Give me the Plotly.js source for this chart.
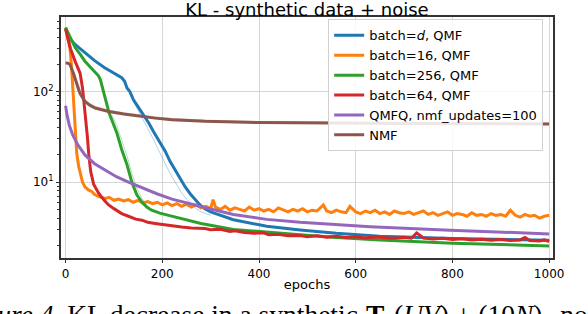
<!DOCTYPE html>
<html>
<head>
<meta charset="utf-8">
<script src="https://cdn.plot.ly/plotly-3.0.1.min.js"></script>
<style>html,body{margin:0;padding:0;background:#fff;overflow:hidden}#chart{width:588px;height:314px}</style>
</head>
<body>
<div id="chart"></div>
<script>
// ---- data ----
const blueX = [0,5,10,20,40,60,80,100,116,122,127,133,140,150,161,172,182,195,206,216,226,236,247,258,268,278,288,300,347,416,485,560,650,800,1000];
const blueY = [510,420,380,330,270,220,185,160,143,130,110,100,82,68,56,45,36,28,22,17,13.7,11,8.9,7.4,6.4,5.6,5.1,4.7,3.85,3.25,2.96,2.72,2.52,2.38,2.28];
const blueFaintX = [140,150,160,170,180,190,200,210,220,230,240,250,260,270,280,300];
const blueFaintY = [78,62,50,40,31,24,18.5,14.5,11.5,9.2,7.6,6.5,5.7,5.1,4.7,4.3];

const orangeX = [0,3,6,9,12,14,16,18,20,23,27,30,35,40,47,54,60,70,82,90,100,110,120,130,140,150,160,170,180,190,200,210,220,230,240,250,260,270,280,290,300,305,310,320,330,340,350,360,370,380,390,400,410,420,430,440,450,460,470,480,490,500,510,520,533,540,550,560,570,580,588,600,610,620,630,640,650,660,670,680,690,700,710,720,730,740,750,760,770,780,790,800,810,820,830,840,850,860,870,880,890,900,910,920,930,940,950,960,970,980,990,1000];
const orangeY = [500,420,360,305,200,130,72,45,30,21,15,12.6,10,8.9,8.2,7.9,7.3,6.9,6.6,6.8,6.3,6.5,6.2,6.4,6.0,6.3,5.9,6.1,5.8,6.0,5.6,5.9,5.5,5.8,5.4,5.7,5.3,5.6,5.2,5.4,5.1,6.4,5.3,5.0,5.4,4.9,5.2,5.0,4.8,5.3,4.9,5.1,4.8,5.0,4.7,5.2,4.9,4.7,5.0,4.8,5.1,4.7,4.9,4.8,5.6,4.8,4.6,4.9,4.7,4.6,5.4,4.7,4.5,4.8,4.6,4.9,4.5,4.7,4.4,4.8,4.6,4.5,4.7,4.4,4.6,4.8,4.4,4.6,4.3,4.5,4.7,4.3,4.5,4.4,4.2,4.6,4.3,4.4,4.2,4.5,4.3,4.4,4.2,4.9,4.3,4.1,4.4,4.2,4.3,4.0,4.2,4.3];

const greenX = [0,10,20,30,40,50,60,68,72,76,80,85,90,96,106,116,127,137,147,158,168,178,195,213,250,280,347,420,485,560,650,800,1000];
const greenY = [510,400,305,260,217,190,165,150,135,110,90,70,58,48,35,23,15.6,10,7.3,6.0,5.3,4.9,4.55,4.3,3.85,3.5,3.0,2.78,2.62,2.45,2.3,2.12,1.97];
const greenFaintX = [96,106,116,127,137,147,158,168];
const greenFaintY = [55,42,29,19.5,12.5,8.6,6.6,5.6];

const redX = [0,10,20,30,35,38,42,45,48,52,58,68,80,89,100,116,130,145,158,170,185,206,220,240,260,288,300,320,340,350,370,390,410,420,440,460,485,500,520,540,560,580,600,620,640,660,680,700,715,726,740,760,780,800,820,840,860,880,900,920,940,950,960,980,990,1000];
const redY = [490,300,215,160,110,78,45,32,20,13,9.5,7.6,6.3,5.6,5.1,4.5,4.2,3.9,3.8,3.6,3.5,3.37,3.3,3.2,3.12,3.08,2.98,3.02,2.86,2.9,2.78,2.72,2.76,2.62,2.66,2.55,2.58,2.5,2.56,2.47,2.52,2.44,2.5,2.42,2.48,2.45,2.4,2.46,2.4,2.75,2.42,2.36,2.4,2.33,2.37,2.3,2.34,2.28,2.32,2.26,2.3,2.45,2.27,2.24,2.3,2.2];

const purpleX = [0,3,8,15,25,40,60,82,105,130,160,190,220,260,300,347,416,485,560,630,795,1000];
const purpleY = [70,55,42,33,26,20,16,13.7,11.5,10,8.6,7.4,6.5,5.7,5.05,4.4,3.88,3.6,3.38,3.22,2.95,2.68];

const brownX = [0,5,9,13,16,20,23,27,30,35,40,50,61,75,89,120,151,185,220,288,400,500,700,1000];
const brownY = [208,206,200,180,161,138,120,105,95,85,78,71,66,63,60.5,56.5,53.5,51,49,47,45.5,45,44.5,44];
const brownFaintY = [212,210,205,186,168,146,128,112,101,90,82,74,68.5,65,62.5,58.5,55.5,52.8,50.6,48.5,46.8,46.2,45.6,45];

const xTicks = [0,200,400,600,800,1000];
const yTicks = [10,100];
const yTickText = ['10<sup>1</sup>','10<sup>2</sup>'];
const yMinor = [2,3,4,5,6,7,8,9,20,30,40,50,60,70,80,90,200,300,400,500,600];

const names = ['batch=<i>d</i>, QMF','batch=16, QMF','batch=256, QMF','batch=64, QMF','QMFQ, nmf_updates=100','NMF'];
const colors = ['#1f77b4','#ff7f0e','#2ca02c','#d62728','#9467bd','#8c564b'];
const faint = ['rgba(31,119,180,0.35)','rgba(255,127,14,0.35)','rgba(44,160,44,0.35)','rgba(214,39,40,0.35)','rgba(148,103,189,0.35)','rgba(140,86,75,0.35)'];

const captionText = '<i>Figure 4.</i> KL decrease in a synthetic';
const captionMath = '<b>T</b><sub>*</sub>(<i>UV</i>) + (10<i>N</i>)<sub>+</sub> noise';

function line(x,y,i){return {x:x,y:y,type:'scatter',mode:'lines',name:names[i],line:{color:colors[i],width:3},hoverinfo:'skip'};}
function fl(x,y,i){return {x:x,y:y,type:'scatter',mode:'lines',showlegend:false,line:{color:faint[i],width:1},hoverinfo:'skip'};}

const traces = [
  fl(blueFaintX,blueFaintY,0),
  fl(greenFaintX,greenFaintY,2),
  fl(brownX,brownFaintY,5),
  line(blueX,blueY,0),
  line(orangeX,orangeY,1),
  line(greenX,greenY,2),
  line(redX,redY,3),
  line(purpleX,purpleY,4),
  line(brownX,brownY,5)
];

const font = 'DejaVu Sans, sans-serif';
const capFont = {family:'Liberation Serif, serif',size:27.5,color:'#000'};
const layout = {
  width:588, height:314,
  margin:{l:61,r:35,t:17,b:56},
  paper_bgcolor:'#fff', plot_bgcolor:'#fff',
  font:{family:font,size:12,color:'#000'},
  title:{text:'KL - synthetic data + noise',font:{family:font,size:18,color:'#000'},x:0.5,xref:'paper',xanchor:'center',y:0.970,yref:'container',yanchor:'middle'},
  showlegend:true,
  legend:{x:0.543,y:0.99,xanchor:'left',yanchor:'top',bgcolor:'rgba(255,255,255,0.85)',bordercolor:'#d0d0d0',borderwidth:1,font:{family:font,size:13,color:'#000'},itemwidth:30,tracegroupgap:0},
  xaxis:{range:[-9.5,1008],tickmode:'array',tickvals:xTicks,ticks:'outside',ticklen:3.5,tickcolor:'#333',
    showgrid:true,gridcolor:'#d6d6d6',gridwidth:1,zeroline:false,showline:true,linecolor:'#333',linewidth:1.6,mirror:true,
    tickfont:{family:font,size:12,color:'#000'},title:{text:'epochs',font:{family:font,size:13,color:'#000'},standoff:0}},
  yaxis:{type:'log',range:[0.162,2.825],tickmode:'array',tickvals:yTicks,ticktext:yTickText,ticks:'outside',ticklen:3.5,tickcolor:'#333',
    showgrid:true,gridcolor:'#d6d6d6',gridwidth:1,zeroline:false,showline:true,linecolor:'#333',linewidth:1.6,mirror:true,
    tickfont:{family:font,size:12,color:'#000'},
    minor:{tickmode:'array',tickvals:yMinor,ticks:'outside',ticklen:2,tickcolor:'#333',showgrid:false}},
  annotations:[
    {text:captionText,xref:'paper',yref:'paper',x:(360-61)/492,y:-0.162,xanchor:'right',yanchor:'top',showarrow:false,font:capFont},
    {text:captionMath,xref:'paper',yref:'paper',x:(364-61)/492,y:-0.162,xanchor:'left',yanchor:'top',showarrow:false,font:capFont}
  ]
};
Plotly.newPlot('chart',traces,layout,{staticPlot:true,displayModeBar:false});
</script>
</body>
</html>
